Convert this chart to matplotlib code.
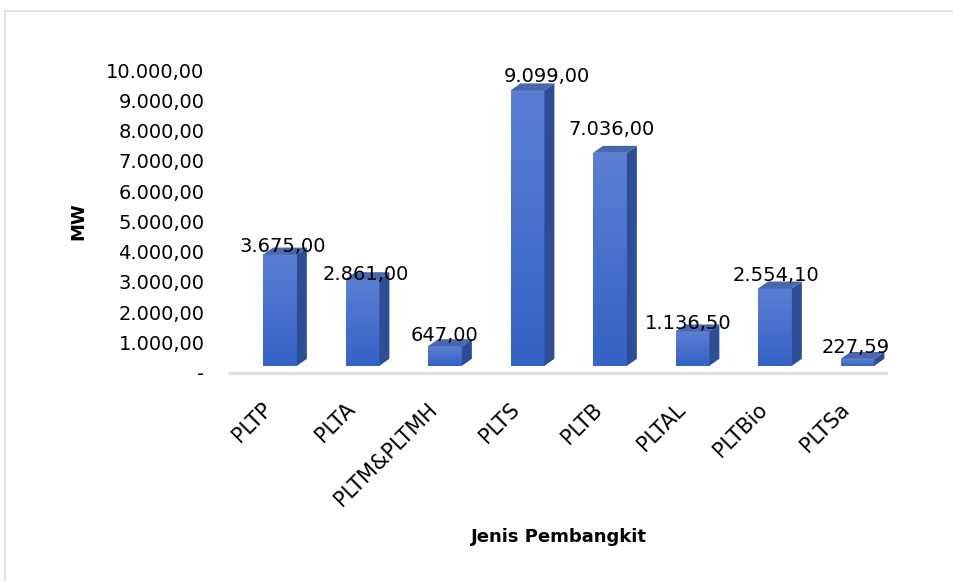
import numpy as np
import matplotlib.pyplot as plt
from matplotlib.patches import Polygon
from matplotlib.lines import Line2D
from matplotlib.colors import LinearSegmentedColormap

# data
categories = ['PLTP', 'PLTA', 'PLTM&PLTMH', 'PLTS', 'PLTB', 'PLTAL', 'PLTBio', 'PLTSa']
capacity_mw = [3675.00, 2861.00, 647.00, 9099.00, 7036.00, 1136.50, 2554.10, 227.59]
value_labels = ['3.675,00', '2.861,00', '647,00', '9.099,00', '7.036,00', '1.136,50', '2.554,10', '227,59']
y_ticks = [0, 1000, 2000, 3000, 4000, 5000, 6000, 7000, 8000, 9000, 10000]
y_tick_labels = ['-', '1.000,00', '2.000,00', '3.000,00', '4.000,00', '5.000,00',
                 '6.000,00', '7.000,00', '8.000,00', '9.000,00', '10.000,00']

plt.rcParams['font.family'] = ['DejaVu Sans']

fig = plt.figure(figsize=(9.54, 5.81), dpi=100)
ax = fig.add_axes([0.239, 0.3287, 0.6918, 0.5783])
ax.set_xlim(-0.63, 7.37)
ax.set_ylim(-800, 10300)

w = 0.41      # front face width
dx = 0.121    # 3d depth in x
dy = 231      # 3d depth in y (data units)

front_grad = np.linspace(0, 1, 64).reshape(-1, 1)
cmap_front = LinearSegmentedColormap.from_list('front', ['#3562C6', '#5B7FD3'])

# small pixel nudges so the data labels sit where excel put them
label_nudge = [(3, -3), (3, -6), (0, 0), (19, 3), (2, 13), (-4, -3), (1, 2), (-2, 1)]

# floor edge
ax.plot([-0.63, 7.37], [-dy, -dy], color='#E2E2E2', lw=2.5, solid_capstyle='butt', zorder=1)

for i, v in enumerate(capacity_mw):
    x0, x1 = i - w / 2, i + w / 2
    # front face with vertical gradient
    ax.imshow(front_grad, extent=(x0, x1, 0, v), origin='lower', cmap=cmap_front,
              aspect='auto', zorder=3, interpolation='bilinear')
    # side face
    side = Polygon([(x1, 0), (x1 + dx, dy), (x1 + dx, v + dy), (x1, v)],
                   closed=True, facecolor='#2D4E96', edgecolor='none', zorder=3)
    ax.add_patch(side)
    # top face
    top = Polygon([(x0, v), (x0 + dx, v + dy), (x1 + dx, v + dy), (x1, v)],
                  closed=True, facecolor='#4A67AE', edgecolor='none', zorder=3)
    ax.add_patch(top)
    ax.annotate(value_labels[i], (i, v + dy - 190), xytext=label_nudge[i],
                textcoords='offset pixels', ha='center', va='bottom',
                fontsize=14, color='black', zorder=5)

# category labels, rotated like excel does
ax.set_xticks([])
for i, name in enumerate(categories):
    ax.annotate(name, (i, 0), xycoords=ax.get_xaxis_transform(), xytext=(-18, -9),
                textcoords='offset pixels', rotation=45, ha='right', va='top',
                rotation_mode='anchor', fontsize=15, annotation_clip=False)

ax.set_yticks([t - dy for t in y_ticks])
ax.set_yticklabels(y_tick_labels, fontsize=14)
ax.tick_params(axis='both', length=0)
ax.tick_params(axis='y', pad=17)
for s in ax.spines.values():
    s.set_visible(False)

fig.text(559 / 954, 1 - 537 / 581, 'Jenis Pembangkit', ha='center', va='center',
         fontsize=13, fontweight='bold')
fig.text(78 / 954, 1 - 221 / 581, 'MW', ha='center', va='center', rotation=90,
         fontsize=13, fontweight='bold')

# chart border (top and left visible)
fig.add_artist(Line2D([5 / 954, 1], [1 - 11 / 581, 1 - 11 / 581], color='#DCDFE3', lw=1.2))
fig.add_artist(Line2D([5 / 954, 5 / 954], [0, 1 - 11 / 581], color='#DCDFE3', lw=1.2))

fig.savefig('out.png', dpi=100)
